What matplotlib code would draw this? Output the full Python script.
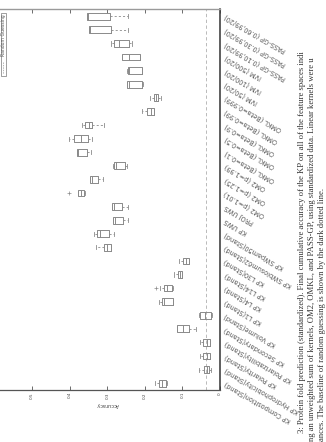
import matplotlib
matplotlib.use("Agg")
import matplotlib.pyplot as plt
from matplotlib.patches import Rectangle
from matplotlib.lines import Line2D

# ---------------- data (bottom-to-top order on the rotated page) ----------------
labels = ["KP Composition(Stand)", "KP Hydrophobicity(Stand)", "KP Polarity(Stand)",
          "KP Polarizability(Stand)", "KP Secondary(Stand)", "KP Volume(Stand)",
          "KP L1(Stand)", "KP L4(Stand)", "KP L14(Stand)", "KP L30(Stand)",
          "KP SWblosum62(Stand)", "KP SWpam50(Stand)", "KP UWS", "PROJ UWS",
          "OM2 (p=1.01)", "OM2 (p=1.25)", "OM2 (p=1.99)",
          "OMKL (Beta=0.1)", "OMKL (Beta=0.5)", "OMKL (Beta=0.9)", "OMKL (Beta=0.99)",
          "OMKL (Beta=0.999)", "IVM (50/20)", "IVM (100/20)", "IVM (500/20)",
          "PASS-GP (0.10,99/20)", "PASS-GP (0.30,99/20)", "PASS-GP (0.60,99/20)"]
whis_lo = [0.141, 0.025, 0.026, 0.027, 0.064, 0.022, 0.124, 0.124, 0.102, 0.082,
           0.290, 0.282, 0.246, 0.246, 0.360, 0.312, 0.249, 0.344, 0.341, 0.308,
           0.175, 0.157, 0.206, 0.207, 0.213, 0.234, 0.244, 0.244]
q1 = [0.145, 0.029, 0.026, 0.027, 0.082, 0.025, 0.124, 0.129, 0.102, 0.082,
      0.290, 0.295, 0.259, 0.260, 0.362, 0.326, 0.253, 0.353, 0.352, 0.340,
      0.175, 0.166, 0.208, 0.209, 0.213, 0.243, 0.290, 0.292]
median = [0.154, 0.035, 0.035, 0.035, 0.099, 0.039, 0.149, 0.140, 0.107, 0.090,
          0.300, 0.320, 0.280, 0.281, 0.371, 0.340, 0.277, 0.377, 0.370, 0.350,
          0.185, 0.170, 0.242, 0.242, 0.243, 0.270, 0.347, 0.351]
q3 = [0.162, 0.042, 0.044, 0.044, 0.115, 0.053, 0.154, 0.148, 0.111, 0.099,
      0.310, 0.328, 0.286, 0.287, 0.377, 0.347, 0.281, 0.380, 0.388, 0.360,
      0.194, 0.177, 0.247, 0.246, 0.260, 0.281, 0.350, 0.354]
whis_hi = [0.172, 0.055, 0.053, 0.053, 0.115, 0.056, 0.162, 0.160, 0.122, 0.108,
           0.331, 0.336, 0.286, 0.287, 0.377, 0.347, 0.285, 0.380, 0.401, 0.368,
           0.209, 0.186, 0.249, 0.248, 0.260, 0.290, 0.350, 0.354]
outliers = [[], [], [], [], [], [], [], [0.170], [], [],
            [], [], [], [], [0.401], [], [], [], [], [],
            [], [], [], [], [], [], [], []]
random_guess = 0.036
acc_ticks = [0, 0.1, 0.2, 0.3, 0.4, 0.5]
acc_ticklabels = ["0", "0.1", "0.2", "0.3", "0.4", "0.5"]
caption_lines = [
    "3: Protein fold prediction (standardized). Final cumulative accuracy of the KP on all of the feature spaces indi",
    "ng an unweighted sum of kernels, OM2, OMKL, and PASS-GP, using standardized data. Linear kernels were u",
    "ances. The baseline of random guessing is shown by the dark dotted line.",
]

# ---------------- figure ----------------
W, H = 326, 442
fig = plt.figure(figsize=(W / 100, H / 100), dpi=100)
fig.patch.set_facecolor("white")

def fx(px):
    return px / W

def fy(py):
    return 1 - py / H

ax = fig.add_axes([fx(-5.3), fy(390), 225.3 / W, (390 - 9.5) / H])
positions = list(range(1, len(labels) + 1))

stats = []
for i in range(len(labels)):
    stats.append(dict(med=median[i], q1=q1[i], q3=q3[i], whislo=whis_lo[i],
                      whishi=whis_hi[i], fliers=outliers[i]))

gray = "#8a8a8a"
ax.bxp(stats, positions=positions, orientation="horizontal", widths=0.5,
       manage_ticks=False, showfliers=True,
       boxprops=dict(color=gray, lw=0.7),
       medianprops=dict(color=gray, lw=0.7),
       whiskerprops=dict(color=gray, lw=0.6, ls=(0, (2.5, 2.5))),
       capprops=dict(color=gray, lw=0.6),
       capwidths=0.3,
       flierprops=dict(marker="+", markeredgecolor=gray, markersize=2.5, mew=0.5))

ax.axvline(random_guess, color="#b0b0b0", ls=(0, (4, 3)), lw=0.6, zorder=0)

ax.set_xlim(0.6, 0)
ax.set_ylim(0.5, len(labels) + 0.5)

ax.set_xticks(acc_ticks)
ax.set_xticklabels(acc_ticklabels)
ax.tick_params(axis="x", which="both", direction="in", top=True, bottom=True,
               length=3, width=0.6, color="#555555", labelsize=3, labelrotation=90,
               pad=1.5, labelcolor="#444444")

ax.set_yticks(positions)
ax.set_yticklabels(labels)
ax.yaxis.tick_right()
ax.tick_params(axis="y", length=0, pad=3.5, labelsize=4.7, labelcolor="#555555")
for lab in ax.get_yticklabels():
    lab.set_rotation(150)
    lab.set_rotation_mode("anchor")
    lab.set_ha("right")
    lab.set_va("center")

ax.set_xlabel("Accuracy", fontsize=3.6, color="#444444", rotation=180)
ax.xaxis.set_label_coords(0.5, -11.5 / 380.5)

ax.spines["left"].set_visible(False)
ax.spines["top"].set_color("#9a9a9a")
ax.spines["top"].set_linewidth(1.0)
ax.spines["right"].set_color("#333333")
ax.spines["right"].set_linewidth(1.1)
ax.spines["bottom"].set_color("#555555")
ax.spines["bottom"].set_linewidth(0.9)

# legend (drawn rotated like the page)
fig.add_artist(Rectangle((fx(0.6), fy(76)), 5.2 / W, (76 - 12.7) / H, fill=False,
                         ec="#777777", lw=0.5, transform=fig.transFigure))
fig.text(fx(3.4), fy(35.5), "Random Guessing", rotation=90, ha="center", va="center",
         fontsize=3.3, color="#555555")
fig.add_artist(Line2D([fx(3.2), fx(3.2)], [fy(62), fy(74)], color="#999999", lw=0.5,
                      ls=(0, (2, 1.5)), transform=fig.transFigure))

# caption (rotated page)
base_x = [304.5, 314.5, 324.0]
start_y = [433, 441, 441]
for bx, sy, line in zip(base_x, start_y, caption_lines):
    fig.text(fx(bx), fy(sy), line, rotation=90, rotation_mode="anchor", ha="left",
             va="baseline", fontsize=6.2, family="Liberation Serif", color="#333333")

fig.savefig("out.png", dpi=100)
